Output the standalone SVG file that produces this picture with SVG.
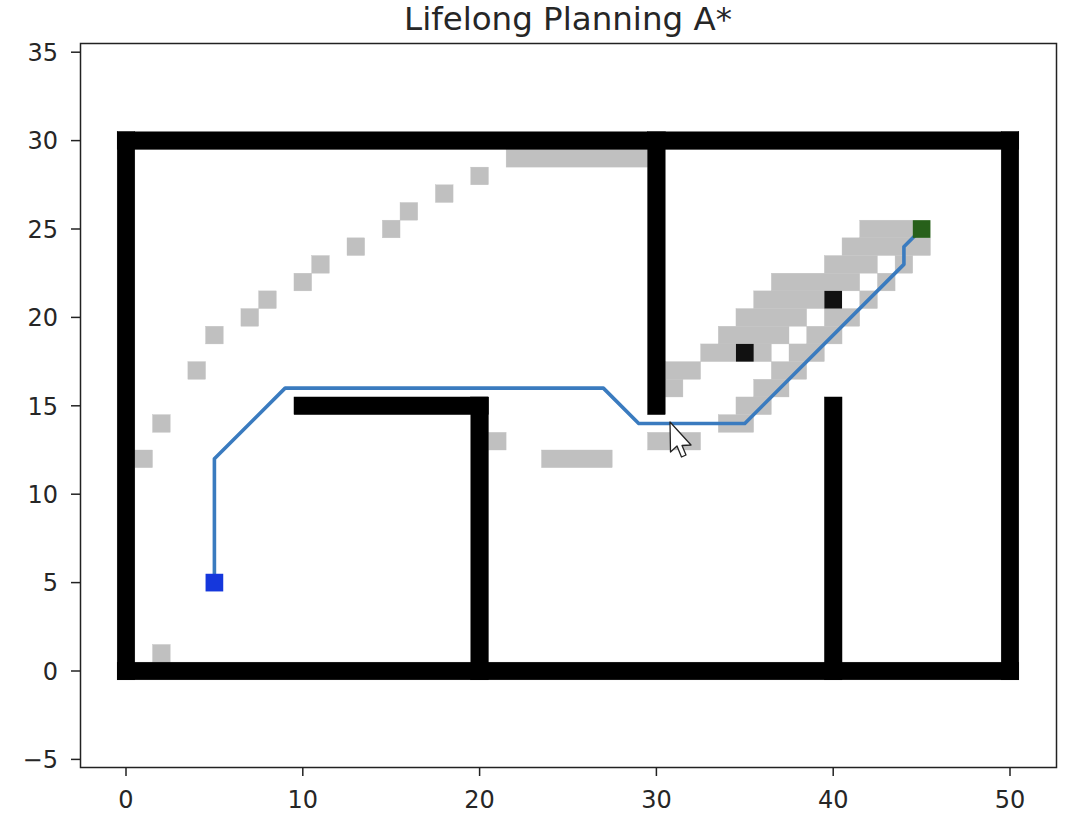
<svg xmlns="http://www.w3.org/2000/svg" width="1080" height="822" viewBox="0 0 1080 822">
<style>
.lbl{font-family:"DejaVu Sans","Liberation Sans",sans-serif;font-size:24px;fill:#262626}
.ttl{font-family:"DejaVu Sans","Liberation Sans",sans-serif;font-size:32.5px;fill:#262626}
.tick{stroke:#222;stroke-width:1.5}
.grey rect{fill:#c0c0c0;stroke:#c0c0c0;stroke-width:0.02}
.wall rect{fill:#000;stroke:#000;stroke-width:0.02}
</style>
<rect width="1080" height="822" fill="#fff"/>
<text class="ttl" x="568" y="30" text-anchor="middle">Lifelong Planning A*</text>
<g id="plot" transform="translate(126,671) scale(17.68,-17.68)">
<g id="visited" class="grey">
<rect x="1.5" y="0.5" width="1" height="1"/>
<rect x="0.5" y="11.5" width="1" height="1"/>
<rect x="1.5" y="13.5" width="1" height="1"/>
<rect x="3.5" y="16.5" width="1" height="1"/>
<rect x="4.5" y="18.5" width="1" height="1"/>
<rect x="6.5" y="19.5" width="1" height="1"/>
<rect x="7.5" y="20.5" width="1" height="1"/>
<rect x="9.5" y="21.5" width="1" height="1"/>
<rect x="10.5" y="22.5" width="1" height="1"/>
<rect x="12.5" y="23.5" width="1" height="1"/>
<rect x="14.5" y="24.5" width="1" height="1"/>
<rect x="15.5" y="25.5" width="1" height="1"/>
<rect x="17.5" y="26.5" width="1" height="1"/>
<rect x="19.5" y="27.5" width="1" height="1"/>
<rect x="21.5" y="28.5" width="8" height="1"/>
<rect x="20.5" y="12.5" width="1" height="1"/>
<rect x="23.5" y="11.5" width="4" height="1"/>
<rect x="29.5" y="12.5" width="3" height="1"/>
<rect x="33.5" y="13.5" width="2" height="1"/>
<rect x="34.5" y="14.5" width="2" height="1"/>
<rect x="30.5" y="15.5" width="1" height="1"/>
<rect x="35.5" y="15.5" width="2" height="1"/>
<rect x="30.5" y="16.5" width="2" height="1"/>
<rect x="36.5" y="16.5" width="2" height="1"/>
<rect x="32.5" y="17.5" width="4" height="1"/>
<rect x="37.5" y="17.5" width="2" height="1"/>
<rect x="33.5" y="18.5" width="4" height="1"/>
<rect x="38.5" y="18.5" width="2" height="1"/>
<rect x="34.5" y="19.5" width="4" height="1"/>
<rect x="39.5" y="19.5" width="2" height="1"/>
<rect x="35.5" y="20.5" width="4" height="1"/>
<rect x="41.5" y="20.5" width="1" height="1"/>
<rect x="36.5" y="21.5" width="5" height="1"/>
<rect x="42.5" y="21.5" width="1" height="1"/>
<rect x="39.5" y="22.5" width="3" height="1"/>
<rect x="43.5" y="22.5" width="1" height="1"/>
<rect x="40.5" y="23.5" width="5" height="1"/>
<rect x="41.5" y="24.5" width="3" height="1"/>
</g>
<g id="walls" class="wall">
<rect x="-0.5" y="-0.5" width="51" height="1"/>
<rect x="-0.5" y="29.5" width="51" height="1"/>
<rect x="-0.5" y="-0.5" width="1" height="31"/>
<rect x="49.5" y="-0.5" width="1" height="31"/>
<rect x="19.5" y="-0.5" width="1" height="16"/>
<rect x="9.5" y="14.5" width="11" height="1"/>
<rect x="29.5" y="14.5" width="1" height="16"/>
<rect x="39.5" y="-0.5" width="1" height="16"/>
</g>
<g id="new-obstacles" fill="#111">
<rect x="34.5" y="17.5" width="1" height="1"/>
<rect x="39.5" y="20.5" width="1" height="1"/>
</g>
<g id="connectors">
<path id="path" d="M5 5 L5 12 L9 16 L27 16 L29 14 L35 14 L44 23 L44 24 L45 25" fill="none" stroke="#3a7bbf" stroke-width="3.6" stroke-linejoin="round" stroke-linecap="round" vector-effect="non-scaling-stroke"/>
</g>
<g id="start"><rect x="4.5" y="4.5" width="1" height="1" fill="#1537dc"/></g>
<g id="goal"><rect x="44.5" y="24.5" width="1" height="1" fill="#27601a"/></g>
</g>
<g id="axes">
<rect x="80.5" y="43.5" width="976" height="724" fill="none" stroke="#222" stroke-width="1.5"/>
<g class="tick">
<line x1="126" y1="767" x2="126" y2="776"/>
<line x1="302.8" y1="767" x2="302.8" y2="776"/>
<line x1="479.6" y1="767" x2="479.6" y2="776"/>
<line x1="656.4" y1="767" x2="656.4" y2="776"/>
<line x1="833.2" y1="767" x2="833.2" y2="776"/>
<line x1="1010" y1="767" x2="1010" y2="776"/>
<line x1="71" y1="759.4" x2="80" y2="759.4"/>
<line x1="71" y1="671" x2="80" y2="671"/>
<line x1="71" y1="582.6" x2="80" y2="582.6"/>
<line x1="71" y1="494.2" x2="80" y2="494.2"/>
<line x1="71" y1="405.8" x2="80" y2="405.8"/>
<line x1="71" y1="317.4" x2="80" y2="317.4"/>
<line x1="71" y1="229" x2="80" y2="229"/>
<line x1="71" y1="140.6" x2="80" y2="140.6"/>
<line x1="71" y1="52.2" x2="80" y2="52.2"/>
</g>
<g class="lbl" text-anchor="middle">
<text x="126" y="808">0</text>
<text x="302.8" y="808">10</text>
<text x="479.6" y="808">20</text>
<text x="656.4" y="808">30</text>
<text x="833.2" y="808">40</text>
<text x="1010" y="808">50</text>
</g>
<g class="lbl" text-anchor="end">
<text x="58" y="768.1">−5</text>
<text x="58" y="679.7">0</text>
<text x="58" y="591.3">5</text>
<text x="58" y="502.9">10</text>
<text x="58" y="414.5">15</text>
<text x="58" y="326.1">20</text>
<text x="58" y="237.7">25</text>
<text x="58" y="149.3">30</text>
<text x="58" y="60.9">35</text>
</g>
</g>
<g id="cursor">
<polygon points="670,422 670.5,452 677,446 681.5,457 686,455 682,445.5 691,445" fill="#fff" stroke="#222" stroke-width="1.3" stroke-linejoin="round"/>
</g>
</svg>
